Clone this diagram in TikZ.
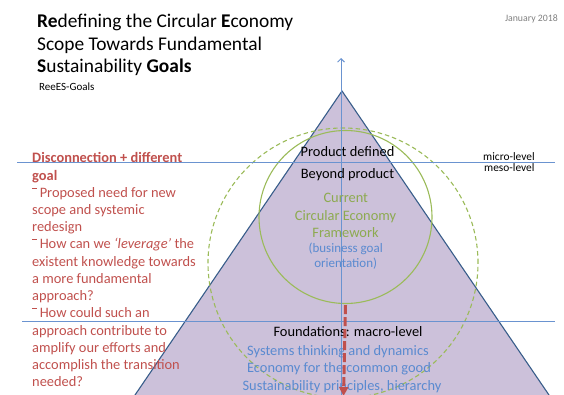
\documentclass[tikz,border=0pt]{standalone}
\usepackage{fontspec}
\setmainfont{Carlito}
\usetikzlibrary{arrows.meta}

\definecolor{lav}{HTML}{CCC1DA}
\definecolor{edgeblue}{HTML}{385D8A}
\definecolor{lineblue}{HTML}{6A93D0}
\definecolor{leafgreen}{HTML}{9BBB59}
\definecolor{brick}{HTML}{C0504D}
\definecolor{txtblue}{HTML}{5A8AD0}
\definecolor{txtgreen}{HTML}{8DAA50}
\definecolor{dategray}{HTML}{808080}

\newcommand{\fsz}[2]{\fontsize{#1}{#2}\selectfont}
\newcommand{\hdash}{\raisebox{0.6em}{\rule{0.3em}{0.08em}}\ }

\tikzset{
  lbl/.style={inner sep=0pt, anchor=base, font=\fsz{14.4}{17}},
  lblw/.style={inner sep=0pt, anchor=base west},
  titleline/.style={lblw, font=\fsz{19.4}{22}},
  levelline/.style={draw=lineblue, line width=0.9pt},
}

\begin{document}
\begin{tikzpicture}[x=1pt, y=-1pt]
\useasboundingbox (0,0) rectangle (564,394);
\clip (0,0) rectangle (564,394);

% pyramid
\coordinate (apex) at (342,91);
\coordinate (bl) at (118,420);
\coordinate (br) at (566,420);
\fill[lav] (apex) -- (br) -- (bl) -- cycle;
\draw[edgeblue, line width=1.1pt] (bl) -- (apex) -- (br);

% scope circles
\node[circle, draw=leafgreen, line width=1.1pt, minimum size=173pt, inner sep=0pt] (cecircle) at (345.5,217) {};
\node[circle, draw=leafgreen, line width=1.1pt, dash pattern=on 4.5pt off 3pt, minimum size=270pt, inner sep=0pt] (widecircle) at (343,263) {};

% level lines
\coordinate (m1) at (17,162.5);
\coordinate (m2) at (555,162.5);
\coordinate (f1) at (22,321);
\coordinate (f2) at (555,321);
\draw[levelline] (m1) -- (m2);
\draw[levelline] (f1) -- (f2);

% vertical axis
\coordinate (axbot) at (341,400);
\coordinate (axtop) at (341,58);
\draw[lineblue, line width=0.9pt, -{Straight Barb[length=3.5pt,width=7pt]}] (axbot) -- (axtop);

% title block
\node[titleline] (t1) at (37,27) {\textbf{Re}defining the Circular \textbf{E}conomy};
\node[titleline] (t2) at (37,50) {Scope Towards Fundamental};
\node[titleline] (t3) at (37,72.5) {\textbf{S}ustainability \textbf{Goals}};
\node[lblw, font=\fsz{11}{13}] (tag) at (39,90) {ReeES-Goals};
\node[inner sep=0pt, anchor=base east, text=dategray, font=\fsz{9.8}{11}] (date) at (558,21) {January 2018};

% level labels
\node[lblw, font=\fsz{11.4}{13}] (micro) at (483,160.5) {micro-level};
\node[lblw, font=\fsz{11.4}{13}] (meso) at (484,171.5) {meso-level};

% questions
\node[inner sep=0pt, anchor=north west, align=left, text=brick, font=\fsz{14.4}{17.23}] (questions) at (32,152.5) {%
\textbf{Disconnection + different}\\
\textbf{goal}\\
\hdash Proposed need for new\\
scope and systemic\\
redesign\\
\hdash How can we \textit{‘leverage’} the\\
existent knowledge towards\\
a more fundamental\\
approach?\\
\hdash How could such an\\
approach contribute to\\
amplify our efforts and\\
accomplish the transition\\
needed?};

% pyramid labels
\node[lbl] (prod) at (347.5,156.7) {Product defined};
\node[lbl] (beyond) at (347.5,178) {Beyond product};
\node[lbl, text=txtgreen] (ce1) at (345.8,202.7) {Current};
\node[lbl, text=txtgreen] (ce2) at (345.5,220.2) {Circular Economy};
\node[lbl, text=txtgreen] (ce3) at (345.5,237.2) {Framework};
\node[lbl, text=txtblue, font=\fsz{13}{15}] (biz1) at (345.7,252.5) {(business goal};
\node[lbl, text=txtblue, font=\fsz{13}{15}] (biz2) at (345.7,267) {orientation)};

\node[lbl] (found) at (348,336.7) {Foundations: macro-level};
\node[lbl, text=txtblue] (sys) at (338,355) {Systems thinking and dynamics};
\node[lbl, text=txtblue] (eco) at (339,372.7) {Economy for the common good};
\node[lbl, text=txtblue] (sus) at (342,390) {Sustainability principles, hierarchy};

% downward shift arrow
\coordinate (shiftend) at (343.5,396);
\draw[brick, line width=3pt, dash pattern=on 9pt off 3pt, -{Triangle[length=9pt,width=9pt]}] (cecircle.south) ++(0,1) -- (shiftend);
\end{tikzpicture}
\end{document}
